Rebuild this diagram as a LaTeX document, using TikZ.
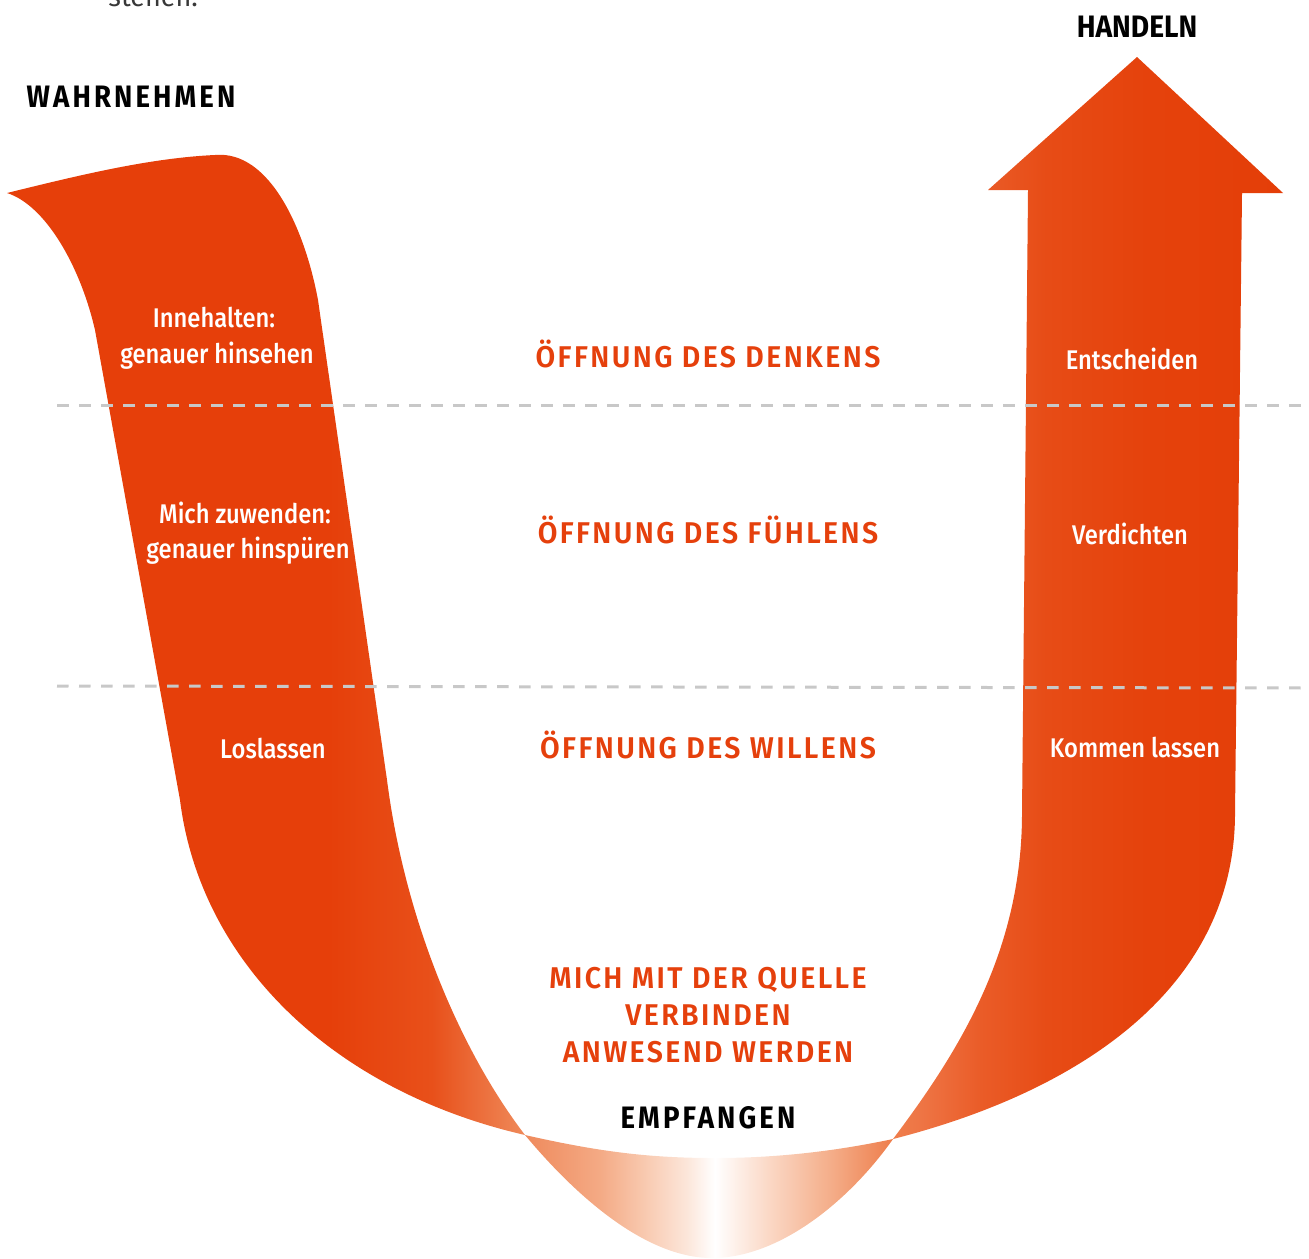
\documentclass[tikz,border=0pt]{standalone}
\usepackage{fontspec}
\setmainfont{Fira Sans}
\IfFontExistsTF{Fira Sans Medium}
  {\newfontfamily\lblfont{Fira Sans Medium}[FakeStretch=0.88]}
  {\newfontfamily\lblfont{Fira Sans}[FakeStretch=0.88]}
\IfFontExistsTF{Fira Sans SemiBold}
  {\newfontfamily\headfam{Fira Sans SemiBold}[LetterSpace=8,FakeStretch=0.95]\newcommand\headstyle{\headfam}}
  {\newfontfamily\headfam{Fira Sans}[LetterSpace=8,FakeStretch=0.95]\newcommand\headstyle{\headfam\bfseries}}
\newfontfamily\blackfam{Fira Sans}[LetterSpace=10,FakeStretch=0.89]
\newfontfamily\blacktight{Fira Sans}[FakeStretch=0.91]
\definecolor{uorange}{HTML}{E63F0A}
\definecolor{htext}{HTML}{E5400C}
\definecolor{dashgray}{HTML}{C8C8C8}
\definecolor{la}{HTML}{EF8A5A}
\definecolor{lmid}{HTML}{E8501A}
\definecolor{r1}{HTML}{EF7E4C}
\definecolor{r2}{HTML}{EE7444}
\definecolor{r3}{HTML}{EA5C28}
\definecolor{r4}{HTML}{E74C16}
\definecolor{r5}{HTML}{E5420C}
\definecolor{r6}{HTML}{E43E08}
\definecolor{l1}{HTML}{EF8A5C}
\definecolor{l2}{HTML}{F4AA85}
\definecolor{l3}{HTML}{F9CDB5}
\definecolor{l4}{HTML}{FCE6DA}
\definecolor{l5}{HTML}{FBD9C7}
\definecolor{l6}{HTML}{F4AC87}
\definecolor{l7}{HTML}{EE7D4B}
\pgfdeclarehorizontalshading{leftband}{100bp}{color(0bp)=(uorange); color(56bp)=(uorange); color(66bp)=(lmid); color(75bp)=(la); color(100bp)=(la)}
\pgfdeclarehorizontalshading{rightband}{100bp}{color(0bp)=(r1); color(25bp)=(r1); color(28.8bp)=(r2); color(36.2bp)=(r3); color(44.7bp)=(r4); color(57.6bp)=(r5); color(75bp)=(r6); color(100bp)=(r6)}
\pgfdeclarehorizontalshading{lens}{100bp}{color(0bp)=(l1); color(25bp)=(l1); color(35.2bp)=(l2); color(42bp)=(l3); color(47bp)=(l4); color(50.8bp)=(white); color(57.9bp)=(l5); color(66.8bp)=(l6); color(75bp)=(l7); color(100bp)=(l7)}
\tikzset{
  wlabel/.style={text=white, font=\lblfont\fontsize{13.5}{16}\selectfont, anchor=base, inner sep=0pt},
  olabel/.style={text=htext, font=\headstyle\fontsize{15}{18}\selectfont, anchor=base, inner sep=0pt},
  klabel/.style={text=black, font=\blackfam\bfseries\fontsize{15.5}{18}\selectfont, anchor=base, inner sep=0pt},
  divider/.style={draw=dashgray, line width=1.5pt, dash pattern=on 5.75pt off 5.25pt}
}
\begin{document}
\begin{tikzpicture}[x=0.5pt,y=-0.5pt]
\useasboundingbox (0,0) rectangle (1309,1258);
% cut-off text at top
\node[anchor=base west, inner sep=0pt, text=black!78, font=\fontsize{13.5}{16}\selectfont] (stehen) at (108,6) {stehen.};
% left band
\shade[shading=leftband] (7,193) .. controls (80,175) and (150,158) .. (215,155)
  .. controls (270,150) and (305,230) .. (318,300) -- (387,780)
  .. controls (405,920) and (460,1050) .. (525,1135)
  .. controls (330,1090) and (200,960) .. (180,800) -- (95,330)
  .. controls (80,265) and (45,205) .. (7,193) -- cycle;
% lens
\shade[shading=lens] (525,1135) .. controls (600,1152) and (650,1158) .. (715,1158)
  .. controls (790,1158) and (850,1148) .. (893,1139)
  .. controls (850,1200) and (780,1258) .. (712,1258)
  .. controls (645,1258) and (575,1195) .. (525,1135) -- cycle;
% right band with arrow head
\shade[shading=rightband] (893,1139) .. controls (960,1050) and (1022,950) .. (1022,813)
  -- (1028,190) -- (988,190) -- (1137,57) -- (1283,193) -- (1242,193) -- (1235,813)
  .. controls (1235,985) and (1085,1090) .. (893,1139) -- cycle;
% dividers
\coordinate (d1a) at (57,405);
\coordinate (d1b) at (1309,405);
\coordinate (d2a) at (57,686);
\coordinate (d2b) at (1309,688);
\draw[divider] (d1a) -- (d1b);
\draw[divider] (d2a) -- (d2b);
% black labels
\node[klabel] (wahr) at (131,107) {WAHRNEHMEN};
\node[klabel, font=\blacktight\bfseries\fontsize{15.5}{18}\selectfont] (hand) at (1137,37) {HANDELN};
\node[klabel] (empf) at (708,1128) {EMPFANGEN};
% orange headings
\node[olabel] (denk) at (708,367) {ÖFFNUNG DES DENKENS};
\node[olabel] (fuehl) at (708,543) {ÖFFNUNG DES FÜHLENS};
\node[olabel] (will) at (708,758) {ÖFFNUNG DES WILLENS};
\node[olabel] (q1) at (708,988) {MICH MIT DER QUELLE};
\node[olabel] (q2) at (708,1025) {VERBINDEN};
\node[olabel] (q3) at (708,1062) {ANWESEND WERDEN};
% white labels left
\node[wlabel] (inne1) at (214,327) {Innehalten:};
\node[wlabel] (inne2) at (217,363) {genauer hinsehen};
\node[wlabel] (zuw1) at (245,523) {Mich zuwenden:};
\node[wlabel] (zuw2) at (248,558) {genauer hinspüren};
\node[wlabel] (los) at (273,758) {Loslassen};
% white labels right
\node[wlabel] (ent) at (1132,369) {Entscheiden};
\node[wlabel] (verd) at (1130,544) {Verdichten};
\node[wlabel] (komm) at (1135,757) {Kommen lassen};
\end{tikzpicture}
\end{document}
